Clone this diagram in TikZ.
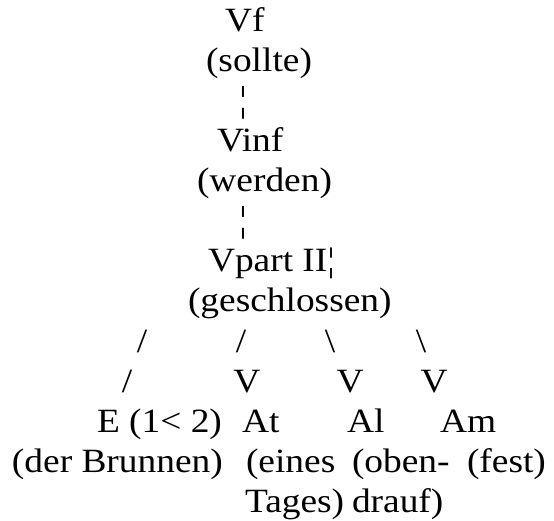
\documentclass[tikz,border=0pt]{standalone}
\usepackage{fontspec}
\setmainfont{Liberation Serif}[FakeStretch=1.1]
\begin{document}
\begin{tikzpicture}[x=1pt,y=1pt,
  every node/.style={inner sep=0pt, outer sep=0pt, font=\fontsize{34}{40}\selectfont},
  lbl/.style={anchor=base west},
  glyph/.style={anchor=base},
  bar/.style={anchor=center, font=\fontsize{36}{40}\selectfont}]
\useasboundingbox (0,0) rectangle (554,-521);
% top chain
\node[lbl] (vf) at (225,-32) {Vf};
\node[lbl] (vfw) at (206,-72) {(sollte)};
\node[bar] (d1) at (243,-103) {¦};
\node[lbl] (vinf) at (217,-152) {Vinf};
\node[lbl] (vinfw) at (197,-192) {(werden)};
\node[bar] (d2) at (243,-223) {¦};
\node[lbl] (vpart) at (208,-272) {Vpart II¦};
\node[lbl] (vpartw) at (188,-312) {(geschlossen)};
% branches
\node[glyph] (s1) at (142,-352) {/};
\node[glyph] (s2) at (241,-352) {/};
\node[glyph] (s3) at (330,-352) {\textbackslash};
\node[glyph] (s4) at (421,-352) {\textbackslash};
\node[glyph] (t1) at (127,-392) {/};
\node[glyph] (t2) at (247,-392) {V};
\node[glyph] (t3) at (350,-392) {V};
\node[glyph] (t4) at (434,-392) {V};
% leaves
\node[lbl] (e) at (97,-432) {E (1< 2)};
\node[lbl] (at) at (242,-432) {At};
\node[lbl] (al) at (347,-432) {Al};
\node[lbl] (am) at (440,-432) {Am};
\node[lbl] (ew) at (12,-472) {(der Brunnen)};
\node[lbl] (atw) at (246,-472) {(eines};
\node[lbl] (alw) at (352,-472) {(oben-};
\node[lbl] (amw) at (467,-472) {(fest)};
\node[lbl] (atw2) at (245,-512) {Tages)};
\node[lbl] (alw2) at (352,-512) {drauf)};
\end{tikzpicture}
\end{document}
